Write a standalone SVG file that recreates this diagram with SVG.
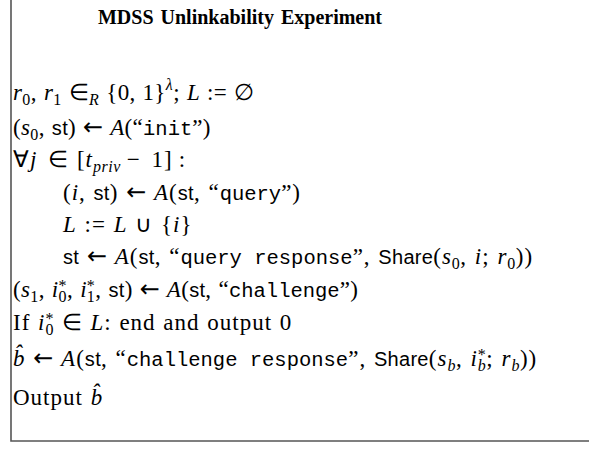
<svg xmlns="http://www.w3.org/2000/svg" width="589" height="465" viewBox="0 0 589 465">
  <style>
    .t { font-family: "Liberation Serif", "Times New Roman", serif; font-size: 23px; letter-spacing: 1px; word-spacing: 1px; fill: #000; }
    .tight { letter-spacing: 0.3px; }
    .title { font-family: "Liberation Serif", serif; font-size: 20px; font-weight: bold; word-spacing: 2px; fill: #000; }
    .i { font-style: italic; }
    .sf { font-family: "Liberation Sans", Arial, sans-serif; font-size: 20px; letter-spacing: 0.3px; }
    .tt { font-family: "Liberation Mono", "Courier New", monospace; font-size: 20.5px; letter-spacing: 0; word-spacing: 0; }
    .ar { font-family: "DejaVu Sans", sans-serif; font-size: 24px; letter-spacing: 0; }
    .s { font-size: 16px; letter-spacing: 0.5px; }
    .frame { fill: none; stroke: #555; stroke-width: 1.6; }
  </style>

  <!-- open frame: left rule and bottom rule -->
  <g id="frame">
    <path class="frame" d="M11 0 V441 H589"/>
  </g>

  <g id="title">
    <text class="title" x="240" y="24" text-anchor="middle">MDSS Unlinkability Experiment</text>
  </g>

  <g id="steps">
    <!-- r0, r1 in_R {0,1}^lambda; L := empty -->
    <text class="t tight" x="13" y="100"><tspan class="i">r</tspan><tspan class="s" dy="5">0</tspan><tspan dy="-5">, </tspan><tspan class="i">r</tspan><tspan class="s" dy="5">1</tspan><tspan dy="-5"> ∈</tspan><tspan class="s i" dy="5">R</tspan><tspan dy="-5"> {0, 1}</tspan><tspan class="s i" dy="-10">λ</tspan><tspan dy="10">; </tspan><tspan class="i">L</tspan> := ∅</text>

    <!-- (s0, st) <- A("init") -->
    <text class="t tight" x="13" y="135">(<tspan class="i">s</tspan><tspan class="s" dy="5">0</tspan><tspan dy="-5">, </tspan><tspan class="sf">st</tspan>) <tspan class="ar">←</tspan> <tspan class="i">A</tspan>(“<tspan class="tt">init</tspan>”)</text>

    <!-- for all j in [t_priv - 1] -->
    <text class="t" x="13" y="167">∀<tspan class="i">j</tspan> <tspan dx="3">∈</tspan> [<tspan class="i">t</tspan><tspan class="s i" dy="5">priv</tspan><tspan dy="-5" dx="6">−</tspan><tspan dx="3"> 1]</tspan><tspan dx="6">:</tspan></text>

    <!-- loop body -->
    <text class="t" x="63" y="200">(<tspan class="i">i</tspan>, <tspan class="sf">st</tspan>) <tspan class="ar">←</tspan> <tspan class="i">A</tspan>(<tspan class="sf">st</tspan>, “<tspan class="tt">query</tspan>”)</text>

    <text class="t" x="63" y="232"><tspan class="i">L</tspan> := <tspan class="i">L</tspan> ∪ {<tspan class="i">i</tspan>}</text>

    <text class="t" x="63" y="264"><tspan class="sf">st</tspan> <tspan class="ar">←</tspan> <tspan class="i">A</tspan>(<tspan class="sf">st</tspan>, “<tspan class="tt">query response</tspan>”, <tspan class="sf">Share</tspan>(<tspan class="i">s</tspan><tspan class="s" dy="5">0</tspan><tspan dy="-5">, </tspan><tspan class="i">i</tspan>; <tspan class="i">r</tspan><tspan class="s" dy="5">0</tspan><tspan dy="-5">))</tspan></text>

    <!-- challenge phase -->
    <text class="t tight" x="13" y="297">(<tspan class="i">s</tspan><tspan class="s" dy="5">1</tspan><tspan dy="-5">, </tspan><tspan class="i">i</tspan><tspan class="s" dy="-6">*</tspan><tspan class="s" dx="-8.5" dy="11">0</tspan><tspan dy="-5">, </tspan><tspan class="i">i</tspan><tspan class="s" dy="-6">*</tspan><tspan class="s" dx="-8.5" dy="11">1</tspan><tspan dy="-5">, </tspan><tspan class="sf">st</tspan>) <tspan class="ar">←</tspan> <tspan class="i">A</tspan>(<tspan class="sf">st</tspan>, “<tspan class="tt">challenge</tspan>”)</text>

    <text class="t" x="13" y="330">If <tspan class="i">i</tspan><tspan class="s" dy="-6">*</tspan><tspan class="s" dx="-8.5" dy="11">0</tspan><tspan dy="-5"> ∈ </tspan><tspan class="i">L</tspan>: end and output 0</text>

    <!-- b-hat <- A(st, "challenge response", Share(s_b, i*_b; r_b)) -->
    <text class="t" x="13" y="366"><tspan class="i">b̂</tspan> <tspan class="ar">←</tspan> <tspan class="i">A</tspan>(<tspan class="sf">st</tspan>, “<tspan class="tt">challenge response</tspan>”, <tspan class="sf">Share</tspan>(<tspan class="i">s</tspan><tspan class="s i" dy="5">b</tspan><tspan dy="-5">, </tspan><tspan class="i">i</tspan><tspan class="s" dy="-6">*</tspan><tspan class="s i" dx="-8.5" dy="11">b</tspan><tspan dy="-5">; </tspan><tspan class="i">r</tspan><tspan class="s i" dy="5">b</tspan><tspan dy="-5">))</tspan></text>

    <text class="t" x="13" y="405">Output <tspan class="i">b̂</tspan></text>
  </g>
</svg>
